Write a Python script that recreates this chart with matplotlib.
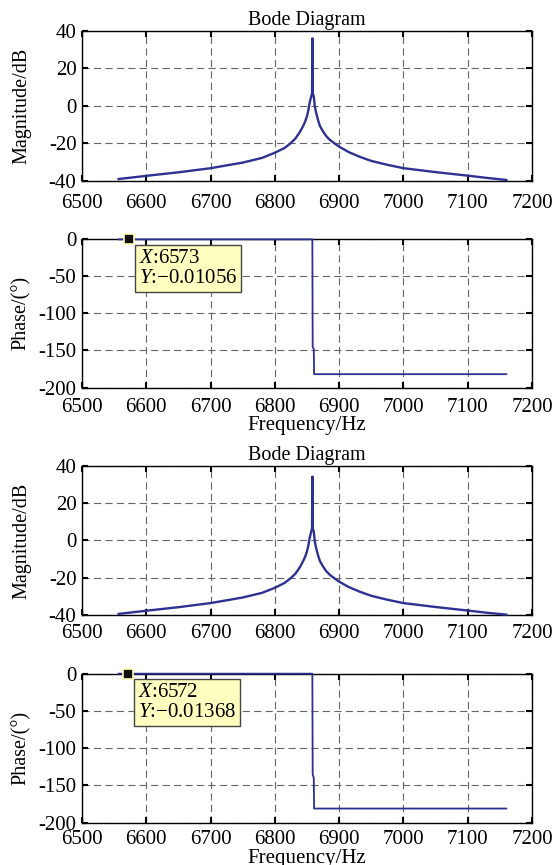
import matplotlib.pyplot as plt

# ==============================================================================
# Datos (dos diagramas de Bode)
# ==============================================================================
FREQ_MAG = [6557, 6600, 6650, 6700, 6750, 6780, 6800, 6815, 6824, 6832, 6839,
            6844, 6847, 6850, 6852, 6854, 6856.5, 6857.8, 6858.4, 6859.0, 6860.5,
            6862, 6864, 6867, 6870, 6875, 6880, 6886, 6893, 6900, 6915, 6932,
            6950, 6975, 7000, 7050, 7100, 7130, 7160]
MAG_1 = [-39.2, -37.5, -35.6, -33.4, -30.4, -27.9, -25.1, -22.6, -20.2, -17.5, -14.0,
         -10.8, -8.5, -5.5, -2.5, 1.5, 5.0, 6.6, 36.1, 6.6, 5.0,
         0.0, -3.5, -7.5, -10.8, -13.8, -16.3, -18.4, -20.2, -21.9, -24.8, -27.3,
         -29.5, -31.6, -33.4, -35.5, -37.4, -38.6, -39.7]
MAG_2 = [-39.4, -37.7, -35.8, -33.6, -30.6, -28.1, -25.4, -22.8, -20.4, -17.8, -14.3,
         -11.0, -8.8, -5.8, -2.8, 1.2, 4.8, 6.5, 34.3, 6.5, 4.8,
         -0.3, -3.8, -7.8, -11.0, -14.0, -16.5, -18.6, -20.4, -22.1, -25.0, -27.5,
         -29.7, -31.8, -33.6, -35.7, -37.6, -38.8, -39.8]

FREQ_PH = [6557, 6858.3, 6858.8, 6860.5, 6861.0, 7160]
PHASE_1 = [0, 0, -145, -148, -182, -182]
PHASE_2 = [0, 0, -135, -140, -181, -181]

CURSOR_X = [6573, 6572]
CURSOR_Y = [-0.01056, -0.01368]

XTICKS = [6500, 6600, 6700, 6800, 6900, 7000, 7100, 7200]
MAG_TICKS = [-40, -20, 0, 20, 40]
PH_TICKS = [-200, -150, -100, -50, 0]

LINE_COLOR = '#2E3192'

plt.rcParams['font.family'] = ['Liberation Serif', 'DejaVu Serif']
plt.rcParams['mathtext.fontset'] = 'custom'
plt.rcParams['mathtext.rm'] = 'Liberation Serif'
plt.rcParams['mathtext.it'] = 'Liberation Serif:italic'


def style_axes(ax, xpad):
    ax.set_xlim(6500, 7200)
    ax.set_xticks(XTICKS)
    ax.tick_params(direction='in', top=True, right=True, length=4, width=1.5,
                   labelsize=15)
    ax.tick_params(axis='x', pad=xpad)
    ax.tick_params(axis='y', pad=4)
    ax.grid(True, linestyle=(0, (6.5, 3.8)), color='#666666', linewidth=0.8)
    for s in ax.spines.values():
        s.set_linewidth(1.0)
    ax.yaxis.set_label_coords(-0.113, 0.5)


def mag_panel(ax, mag, xpad, tpad):
    ax.plot(FREQ_MAG, mag, color=LINE_COLOR, linewidth=1.7, clip_on=False, zorder=3)
    style_axes(ax, xpad)
    ax.set_ylim(-40, 40)
    ax.set_yticks(MAG_TICKS)
    ax.set_yticklabels([str(t) for t in MAG_TICKS])
    ax.set_ylabel('Magnitude/dB', fontsize=14.5)
    ax.set_title('Bode Diagram', fontsize=14.5, pad=tpad)


def phase_panel(ax, phase, cx, cy, xpad, lpad):
    ax.plot(FREQ_PH, phase, color=LINE_COLOR, linewidth=1.3, clip_on=False, zorder=3)
    style_axes(ax, xpad)
    ax.set_ylim(-200, 0)
    ax.set_yticks(PH_TICKS)
    ax.set_yticklabels([str(t) for t in PH_TICKS])
    ax.set_ylabel('Phase/(°)', fontsize=14.5)
    ax.set_xlabel('Frequency/Hz', fontsize=15, labelpad=lpad)
    # cursor de datos (estilo MATLAB)
    ax.plot([cx], [0], marker='s', markersize=7, color='#111111',
            markeredgecolor='#ffffb0', markeredgewidth=1.2, clip_on=False, zorder=5)
    txt = '$\\mathit{X}$:%d\n$\\mathit{Y}$:\u2212%.5f' % (cx, abs(cy))
    ax.annotate(txt, xy=(cx, 0), xytext=(7, -7), textcoords='offset points',
                fontsize=15, va='top', ha='left', linespacing=1.05,
                bbox=dict(boxstyle='square,pad=0.19', facecolor='#ffffc0',
                          edgecolor='#444444', linewidth=1.0), zorder=6)


fig = plt.figure(figsize=(5.56, 8.65), dpi=100)
left, width = 0.1475, 0.8094
ax1 = fig.add_axes([left, 0.7913, width, 0.1728])
ax2 = fig.add_axes([left, 0.5520, width, 0.1713])
ax3 = fig.add_axes([left, 0.2890, width, 0.1723])
ax4 = fig.add_axes([left, 0.0489, width, 0.1723])

mag_panel(ax1, MAG_1, xpad=10, tpad=4.5)
phase_panel(ax2, PHASE_1, CURSOR_X[0], CURSOR_Y[0], xpad=7.5, lpad=-1)
mag_panel(ax3, MAG_2, xpad=6.5, tpad=4.3)
phase_panel(ax4, PHASE_2, CURSOR_X[1], CURSOR_Y[1], xpad=5, lpad=0)

fig.savefig('out.png', dpi=100)
